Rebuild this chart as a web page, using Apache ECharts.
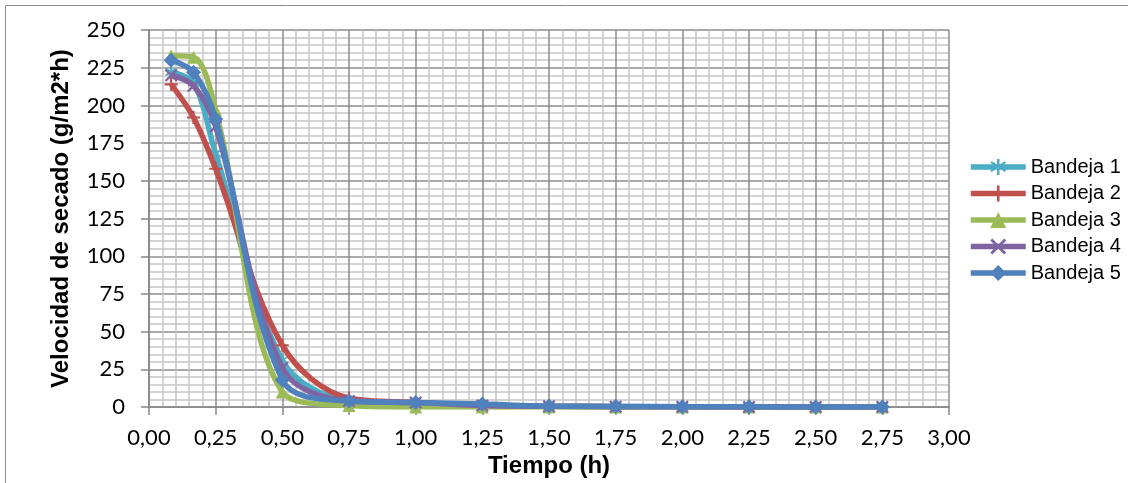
<!DOCTYPE html>
<html>
<head>
<meta charset="utf-8">
<script src="https://cdn.jsdelivr.net/npm/echarts@6/dist/echarts.min.js"></script>
<style>
html,body{margin:0;padding:0;background:#fff;}
#chart{width:1128px;height:483px;}
</style>
</head>
<body>
<div id="chart"></div>
<script>
const tiempo = [0.083, 0.167, 0.25, 0.5, 0.75, 1.0, 1.25, 1.5, 1.75, 2.0, 2.25, 2.5, 2.75];
const bandeja1 = [222, 215, 168, 31, 4, 2, 1, 0.5, 0.3, 0.2, 0.2, 0.1, 0.1];
const bandeja2 = [214, 192, 158, 41, 6, 3, 1, 0.5, 0.3, 0.2, 0.1, 0.1, 0.1];
const bandeja3 = [233, 232, 197, 10, 1, 0, 0, 0, 0, 0, 0, 0, 0];
const bandeja4 = [220, 213, 186, 26, 4, 3, 1, 0.5, 0.3, 0.2, 0.1, 0.1, 0.1];
const bandeja5 = [230, 222, 191, 18, 4, 3, 2, 0.7, 0.5, 0.3, 0.2, 0.1, 0.1];
const seriesNames = ['Bandeja 1', 'Bandeja 2', 'Bandeja 3', 'Bandeja 4', 'Bandeja 5'];
const seriesColors = ['#4BACC6', '#C0504D', '#9BBB59', '#8064A2', '#4F81BD'];

const plusPath = 'path://M-1,-6L1,-6L1,-1L6,-1L6,1L1,1L1,6L-1,6L-1,1L-6,1L-6,-1L-1,-1Z';
const xPath = 'path://M-5.6,-4.2L-4.2,-5.6L0,-1.4L4.2,-5.6L5.6,-4.2L1.4,0L5.6,4.2L4.2,5.6L0,1.4L-4.2,5.6L-5.6,4.2L-1.4,0Z';
const starPath = 'path://M-0.8,-6L0.8,-6L0.8,-1.9L4.2,-4.4L5.1,-3.1L1.5,-0.3L5.1,2.4L4.2,3.7L0.8,1.2L0.8,6L-0.8,6L-0.8,1.2L-4.2,3.7L-5.1,2.4L-1.5,-0.3L-5.1,-3.1L-4.2,-4.4L-0.8,-1.9Z';
const symbols = [starPath, plusPath, 'triangle', xPath, 'diamond'];
const symbolSizes = [12, 13, 13, 13, 15];

const allData = [bandeja1, bandeja2, bandeja3, bandeja4, bandeja5];

const chart = echarts.init(document.getElementById('chart'), null, {renderer: 'canvas'});
const fmt = v => v.toFixed(2).replace('.', ',');

chart.setOption({
  animation: false,
  backgroundColor: '#fff',
  graphic: [{
    type: 'rect', shape: {x: 5.5, y: 5.5, width: 1140, height: 500},
    style: {fill: 'none', stroke: '#8a8a8a', lineWidth: 1}, silent: true, z: -10
  }],
  grid: {left: 149, right: 179, top: 30, bottom: 73, containLabel: false},
  legend: {
    orient: 'vertical', left: 963, top: 152,
    itemWidth: 55, itemHeight: 20, itemGap: 6.5,
    lineStyle: {width: 5.5},
    textStyle: {fontFamily: 'Liberation Sans, Arial', fontSize: 20, color: '#000'},
    data: seriesNames
  },
  xAxis: {
    type: 'value', min: 0, max: 3, interval: 0.25,
    name: 'Tiempo (h)', nameLocation: 'middle', nameGap: 44,
    nameTextStyle: {fontFamily: 'Liberation Sans, Arial', fontWeight: 'bold', fontSize: 24, color: '#000'},
    axisLine: {show: true, onZero: false, lineStyle: {color: '#868686', width: 1.5}},
    axisTick: {show: true, inside: false, length: 8, lineStyle: {color: '#868686', width: 1.5}},
    axisLabel: {formatter: fmt, margin: 20, fontFamily: 'Lato', fontSize: 22, color: '#000'},
    splitLine: {show: true, lineStyle: {color: '#8c8c8c', width: 1.5}},
    minorTick: {show: false, splitNumber: 5},
    minorSplitLine: {show: true, lineStyle: {color: '#c6c6c6', width: 1.5}}
  },
  yAxis: {
    type: 'value', min: 0, max: 250, interval: 25,
    name: 'Velocidad de secado (g/m2*h)', nameLocation: 'middle', nameGap: 76,
    nameTextStyle: {fontFamily: 'Liberation Sans, Arial', fontWeight: 'bold', fontSize: 24, color: '#000'},
    axisLine: {show: true, lineStyle: {color: '#868686', width: 1.5}},
    axisTick: {show: true, inside: false, length: 8, lineStyle: {color: '#868686', width: 1.5}},
    axisLabel: {margin: 24, fontFamily: 'Lato', fontSize: 22, color: '#000'},
    splitLine: {show: true, lineStyle: {color: '#8c8c8c', width: 1.5}},
    minorTick: {show: false, splitNumber: 5},
    minorSplitLine: {show: true, lineStyle: {color: '#c6c6c6', width: 1.5}}
  },
  series: seriesNames.map((name, i) => ({
    name: name,
    type: 'line',
    smooth: 0.35,
    data: tiempo.map((t, j) => [t, allData[i][j]]),
    symbol: symbols[i],
    symbolSize: symbolSizes[i],
    showAllSymbol: true,
    color: seriesColors[i],
    itemStyle: {color: seriesColors[i]},
    lineStyle: {color: seriesColors[i], width: 5.5},
    z: 2 + i
  }))
});
</script>
</body>
</html>
